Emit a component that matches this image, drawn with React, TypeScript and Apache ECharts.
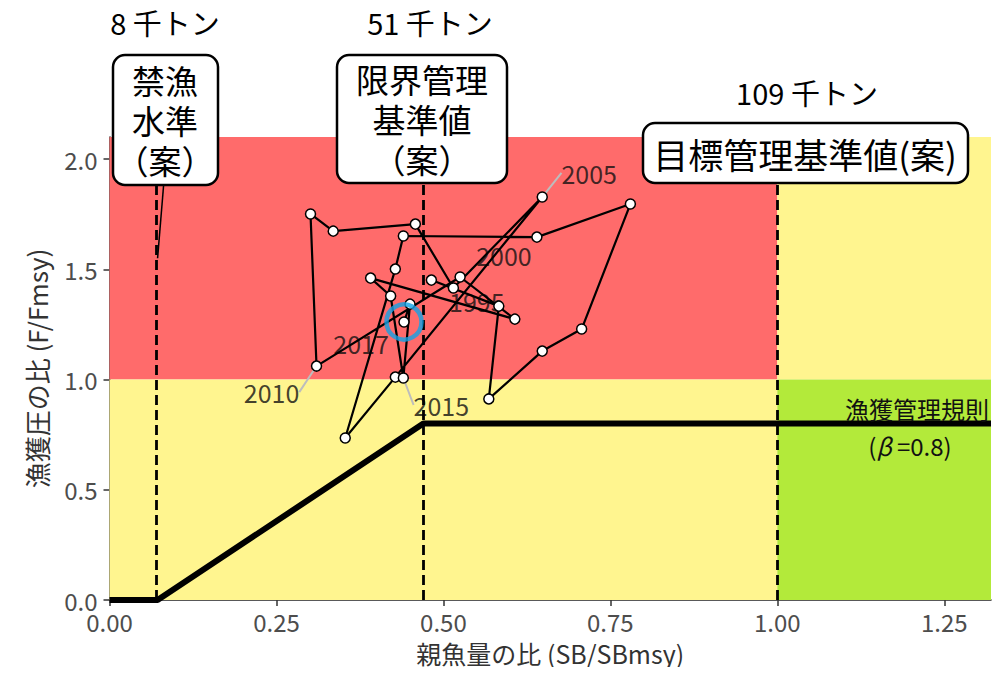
import React, { useEffect, useRef } from 'react';
import * as echarts from 'echarts';

// ---- data ----
const years = [1994, 1995, 1996, 1997, 1998, 1999, 2000, 2001, 2002, 2003, 2004, 2005,
  2006, 2007, 2008, 2009, 2010, 2011, 2012, 2013, 2014, 2015, 2016, 2017];
const sbRatio = [0.482, 0.583, 0.568, 0.648, 0.707, 0.780, 0.640, 0.440, 0.428, 0.353, 0.428, 0.648,
  0.515, 0.458, 0.335, 0.301, 0.310, 0.525, 0.607, 0.391, 0.421, 0.440, 0.450, 0.441];
const fRatio = [1.451, 1.333, 0.912, 1.129, 1.229, 1.796, 1.646, 1.651, 1.501, 0.735, 1.011, 1.828,
  1.415, 1.705, 1.673, 1.751, 1.061, 1.465, 1.274, 1.460, 1.379, 1.007, 1.342, 1.261];
const labeledYears = [1995, 2000, 2005, 2010, 2015, 2017];
const leaderYears = [2005, 2010, 2015];
const currentYear = 2017;

const xTicks = [0, 0.25, 0.5, 0.75, 1.0, 1.25];
const yTicks = [0, 0.5, 1.0, 1.5, 2.0];
const xMax = 1.32;
const yMax = 2.1;
const fLimit = 1.0;

const refPointsX = [0.072, 0.47, 1.0];
const refTonnes = ['8 千トン', '51 千トン', '109 千トン'];
const refNames = [['禁漁', '水準', '（案）'], ['限界管理', '基準値', '（案）'], ['目標管理基準値(案)']];

const hcrX = [0, 0.072, 0.47, xMax];
const hcrY = [0, 0, 0.8, 0.8];
const banTraceX = [0.072, 0.087];
const banTraceY = [1.55, 2.1];

// ---- styles / layout ----
const FONT = '"Noto Sans CJK JP", "Noto Sans", sans-serif';
const RED = '#FF6B6B';
const YELLOW = '#FFF58F';
const GREEN = '#B3EA3A';
const labelOffsets: Record<number, [number, number]> = {
  1995: [-22, -5], 2000: [-33, 18], 2005: [47, -24], 2010: [-45, 26], 2015: [38, 27], 2017: [-43, 21],
};
const boxes = [
  { x: 113, y: 55, w: 105, h: 130, tx: 165, ty: 80, topX: 165, topY: 22, fs: 33 },
  { x: 337, y: 55, w: 170, h: 128, tx: 422, ty: 79, topX: 430, topY: 22, fs: 33 },
  { x: 643, y: 123, w: 325, h: 60, tx: 805, ty: 153, topX: 807, topY: 92, fs: 35 },
];
const LINE_STEP = 40;

export default function App() {
  const ref = useRef<HTMLDivElement>(null);
  useEffect(() => {
    if (!ref.current) return;
    const chart = echarts.init(ref.current, undefined, { renderer: 'svg' });
    const traj = years.map((y, i) => [sbRatio[i], fRatio[i]]);
    const idx = (y: number) => years.indexOf(y);
    const hcr = hcrX.map((x, i) => [x, hcrY[i]]);

    const graphics: any[] = [];
    boxes.forEach((b, i) => {
      graphics.push({
        type: 'rect', shape: { x: b.x, y: b.y, width: b.w, height: b.h, r: 12 },
        style: { fill: '#fff', stroke: '#000', lineWidth: 2.5 }, z: 100,
      });
      refNames[i].forEach((line, k) => {
        graphics.push({
          type: 'text', x: b.tx, y: b.ty + k * LINE_STEP, z: 101,
          style: { text: line, font: `${b.fs}px ${FONT}`, fill: '#000', align: 'center', verticalAlign: 'middle' },
        });
      });
      graphics.push({
        type: 'text', x: b.topX, y: b.topY, z: 101,
        style: { text: refTonnes[i], font: `29px ${FONT}`, fill: '#000', align: 'center', verticalAlign: 'middle' },
      });
    });
    graphics.push({
      type: 'text', x: 989, y: 408, z: 101,
      style: { text: '漁獲管理規則', font: `24px ${FONT}`, fill: '#111', align: 'right', verticalAlign: 'middle' },
    });
    graphics.push({
      type: 'text', x: 910, y: 445, z: 101,
      style: {
        text: '({i|β} =0.8)', font: `24px ${FONT}`, fill: '#111', align: 'center', verticalAlign: 'middle',
        rich: { i: { fontStyle: 'italic', fontSize: 24, fontFamily: FONT, fill: '#111' } },
      },
    });

    const yearLabel = {
      show: true, position: 'inside', formatter: (p: any) => String(p.data.year),
      fontSize: 25, color: '#111', fontFamily: FONT, textBorderWidth: 0, textShadowBlur: 0,
    };

    const option: any = {
      animation: false,
      backgroundColor: '#fff',
      textStyle: { fontFamily: FONT },
      grid: { left: 109.5, right: 15, top: 137, bottom: 75 },
      xAxis: {
        type: 'value', min: 0, max: xMax,
        name: '親魚量の比 (SB/SBmsy)', nameLocation: 'middle', nameGap: 34,
        nameTextStyle: { fontSize: 25, color: '#333', fontFamily: FONT, lineHeight: 28 },
        axisLine: { show: true, onZero: false, lineStyle: { color: '#222', width: 1.5 } },
        axisTick: { show: true, length: 6, customValues: xTicks, lineStyle: { color: '#333', width: 1.5 } },
        axisLabel: { customValues: xTicks, formatter: (v: number) => v.toFixed(2), fontSize: 24, color: '#4d4d4d', margin: 8, fontFamily: FONT, lineHeight: 26 },
        splitLine: { show: false },
      },
      yAxis: {
        type: 'value', min: 0, max: yMax,
        name: '漁獲圧の比 (F/Fmsy)', nameLocation: 'middle', nameGap: 60, nameRotate: 90,
        nameTextStyle: { fontSize: 26, color: '#333', fontFamily: FONT },
        axisLine: { show: true, onZero: false, lineStyle: { color: '#222', width: 1.5 } },
        axisTick: { show: true, length: 6, customValues: yTicks, lineStyle: { color: '#333', width: 1.5 } },
        axisLabel: { customValues: yTicks, formatter: (v: number) => v.toFixed(1), fontSize: 24, color: '#4d4d4d', margin: 12, fontFamily: FONT },
        splitLine: { show: false },
      },
      graphic: graphics,
      series: [
        {
          name: 'zones', type: 'line', data: hcr, symbol: 'none', lineStyle: { opacity: 0 }, z: 0, silent: true,
          markArea: {
            silent: true,
            data: [
              [{ coord: [0, fLimit], itemStyle: { color: RED } }, { coord: [1.0, yMax] }],
              [{ coord: [0, 0], itemStyle: { color: YELLOW } }, { coord: [1.0, fLimit] }],
              [{ coord: [1.0, fLimit], itemStyle: { color: YELLOW } }, { coord: [xMax, yMax] }],
              [{ coord: [1.0, 0], itemStyle: { color: GREEN } }, { coord: [xMax, fLimit] }],
            ],
          },
        },
        {
          name: 'refs', type: 'line', data: hcr, symbol: 'none', lineStyle: { opacity: 0 }, z: 1, silent: true,
          markLine: {
            silent: true, symbol: ['none', 'none'], label: { show: false },
            lineStyle: { type: [10, 5], color: '#000', width: 2.8 },
            data: refPointsX.map((x) => ({ xAxis: x })),
          },
        },
        {
          name: 'ban', type: 'line', data: banTraceX.map((x, i) => [x, banTraceY[i]]), symbol: 'none',
          lineStyle: { color: '#000', width: 1.5 }, z: 2, silent: true,
        },
        {
          name: 'hcr', type: 'line', data: hcr, symbol: 'none', clip: false,
          lineStyle: { color: '#000', width: 6 }, z: 2, silent: true,
        },
        {
          name: 'labels', type: 'scatter', symbolSize: 1, z: 3, silent: true,
          itemStyle: { color: 'rgba(0,0,0,0)' },
          data: labeledYears.filter((y) => !leaderYears.includes(y)).map((y) => ({
            value: traj[idx(y)], year: y,
            label: { offset: labelOffsets[y] },
          })),
          label: yearLabel,
        },
        {
          name: 'leaderLabels', type: 'scatter', symbolSize: 1, z: 3, silent: true,
          itemStyle: { color: 'rgba(0,0,0,0)' },
          data: leaderYears.map((y) => ({ value: traj[idx(y)], year: y })),
          label: yearLabel,
          labelLayout: (p: any) => {
            const y = leaderYears[p.dataIndex];
            const o = labelOffsets[y];
            return { dx: o[0], dy: o[1] };
          },
          labelLine: { show: true, lineStyle: { color: '#bdbdbd', width: 2 } },
        },
        {
          name: 'trajectory', type: 'line', data: traj, symbol: 'circle', symbolSize: 10, z: 5,
          itemStyle: { color: '#fff', borderColor: '#000', borderWidth: 1.5 },
          lineStyle: { color: '#000', width: 2.2 },
        },
        {
          name: 'current', type: 'scatter', data: [traj[idx(currentYear)]], symbol: 'circle', symbolSize: 35, z: 6,
          itemStyle: { color: 'rgba(0,0,0,0)', borderColor: '#12A3E6', borderWidth: 4.5 },
        },
      ],
    };
    chart.setOption(option);
    return () => chart.dispose();
  }, []);
  return <div ref={ref} style={{ width: 1006, height: 675, margin: -8 }} />;
}
